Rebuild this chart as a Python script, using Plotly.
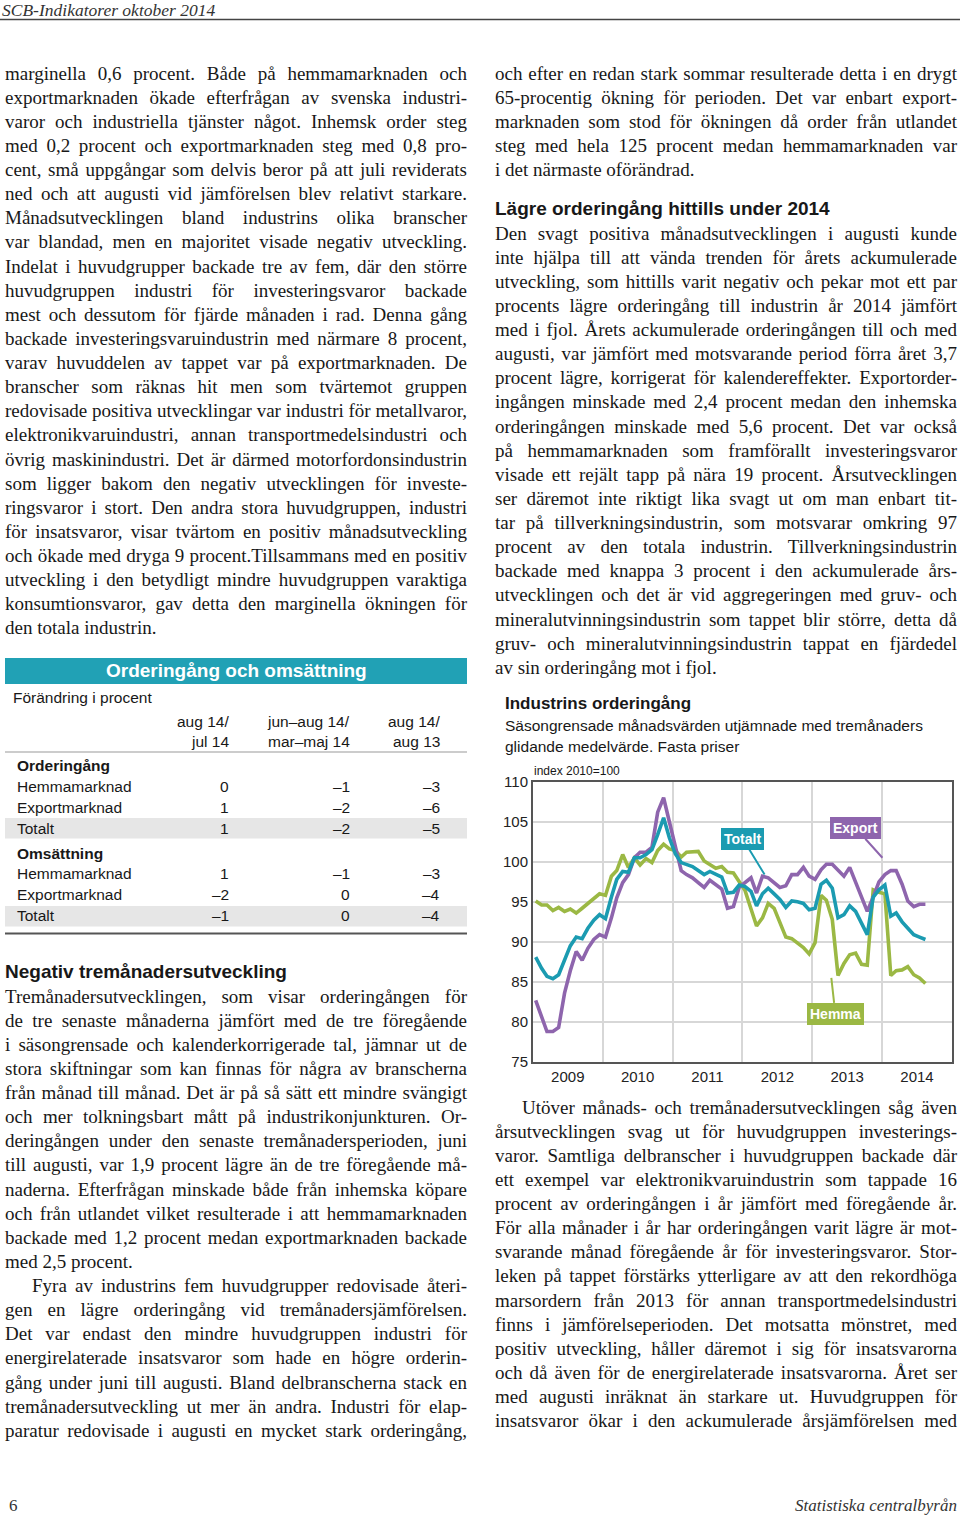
import json
import pandas as pd
import plotly.graph_objects as go

# ---------------- chart data (index 2010=100, monthly, Jan 2009 - Aug 2014) ----------------
months = pd.date_range("2009-01-01", periods=68, freq="MS") + pd.Timedelta(days=14)

hemma = [
    95.1, 94.6, 94.6, 93.9, 94.3, 93.8, 94.1, 93.6, 94.2, 94.8, 95.4, 96.0,
    95.8, 98.2, 98.9, 100.9, 99.3, 100.5, 99.6, 100.4, 99.9, 101.4, 102.2, 101.6,
    101.4, 100.6, 101.2, 101.3, 101.3, 100.1, 99.6, 99.2, 99.4, 98.7, 98.6, 97.5,
    96.4, 94.1, 92.0, 93.0, 94.8, 94.2, 92.4, 90.6, 90.4, 89.8, 89.3, 88.5,
    89.9, 95.8, 95.2, 92.8, 85.8, 87.3, 88.4, 88.6, 87.2, 87.1, 96.5, 96.2,
    96.0, 85.8, 86.4, 86.5, 86.9, 85.9, 85.5, 84.8,
]
totalt = [
    88.1, 86.7, 85.7, 85.4, 85.9, 87.8, 89.5, 90.6, 90.4, 91.7, 92.7, 93.4,
    92.9, 95.6, 97.8, 98.8, 98.7, 100.5, 100.5, 100.9, 101.5, 103.4, 105.5, 103.0,
    101.0, 99.9, 99.7, 99.4, 98.9, 98.4, 98.8, 98.4, 98.1, 96.1, 96.2, 97.1,
    96.9, 96.3, 94.5, 96.0, 96.7, 96.0, 95.3, 94.3, 95.1, 95.0, 94.8, 94.0,
    94.2, 97.2, 97.7, 96.7, 93.0, 93.4, 94.5, 93.8, 92.3, 90.9, 95.6, 96.5,
    97.1, 93.2, 93.6, 92.5, 91.7, 90.9, 90.6, 90.3,
]
export = [
    82.7, 80.8, 78.8, 78.8, 79.3, 83.6, 86.4, 88.8, 87.7, 89.2, 90.3, 90.9,
    90.6, 93.0, 95.5, 97.4, 98.4, 100.5, 101.2, 101.2, 101.8, 106.2, 108.0, 105.0,
    102.0, 98.9, 98.4, 98.0, 97.4, 96.8, 97.7, 97.2, 96.6, 94.2, 94.4, 96.8,
    97.4, 98.0, 96.1, 98.2, 98.0, 97.4, 96.8, 97.0, 98.4, 98.4, 99.3, 98.2,
    97.8, 99.0, 99.7, 99.7, 98.9, 98.2, 99.3, 97.5, 95.8, 93.8, 95.6, 97.5,
    98.4, 98.9, 98.9, 97.2, 95.1, 94.4, 94.7, 94.7,
]
years = [2009, 2010, 2011, 2012, 2013, 2014]
year_labels = ["2009", "2010", "2011", "2012", "2013", "2014"]
y_ticks = [75, 80, 85, 90, 95, 100, 105, 110]

chart_title = "Industrins orderingång"
chart_sub = ["Säsongrensade månadsvärden utjämnade med tremånaders",
             "glidande medelvärde. Fasta priser"]
chart_unit = "index 2010=100"

# ---------------- table data ----------------
table_title = "Orderingång och omsättning"
table_unit = "Förändring i procent"
table_head_1 = ["aug 14/", "jun–aug 14/", "aug 14/"]
table_head_2 = ["jul 14", "mar–maj 14", "aug 13"]
table_groups = ["Orderingång", "Omsättning"]
table_rows = ["Hemmamarknad", "Exportmarknad", "Totalt"]
order_vals = [[0, -1, -3], [1, -2, -6], [1, -2, -5]]
oms_vals = [[1, -1, -3], [-2, 0, -4], [-1, 0, -4]]

# ---------------- page text ----------------
header = "SCB-Indikatorer oktober 2014"
footer_left = "6"
footer_right = "Statistiska centralbyrån"
heading_left = "Negativ tremånadersutveckling"
heading_right = "Lägre orderingång hittills under 2014"

left_1 = [
    "marginella 0,6 procent. Både på hemmamarknaden och",
    "exportmarknaden ökade efterfrågan av svenska industri-",
    "varor och industriella tjänster något. Inhemsk order steg",
    "med 0,2 procent och exportmarknaden steg med 0,8 pro-",
    "cent, små uppgångar som delvis beror på att juli reviderats",
    "ned och att augusti vid jämförelsen blev relativt starkare.",
    "Månadsutvecklingen bland industrins olika branscher",
    "var blandad, men en majoritet visade negativ utveckling.",
    "Indelat i huvudgrupper backade tre av fem, där den större",
    "huvudgruppen industri för investeringsvaror backade",
    "mest och dessutom för fjärde månaden i rad. Denna gång",
    "backade investeringsvaruindustrin med närmare 8 procent,",
    "varav huvuddelen av tappet var på exportmarknaden. De",
    "branscher som räknas hit men som tvärtemot gruppen",
    "redovisade positiva utvecklingar var industri för metallvaror,",
    "elektronikvaruindustri, annan transportmedelsindustri och",
    "övrig maskinindustri. Det är därmed motorfordonsindustrin",
    "som ligger bakom den negativ utvecklingen för investe-",
    "ringsvaror i stort. Den andra stora huvudgruppen, industri",
    "för insatsvaror, visar tvärtom en positiv månadsutveckling",
    "och ökade med dryga 9 procent.Tillsammans med en positiv",
    "utveckling i den betydligt mindre huvudgruppen varaktiga",
    "konsumtionsvaror, gav detta den marginella ökningen för",
    "den totala industrin.",
]
left_1_mode = ["j"] * 23 + ["l"]

left_2 = [
    "Tremånadersutvecklingen, som visar orderingången för",
    "de tre senaste månaderna jämfört med de tre föregående",
    "i säsongrensade och kalenderkorrigerade tal, jämnar ut de",
    "stora skiftningar som kan finnas för några av branscherna",
    "från månad till månad. Det är på så sätt ett mindre svängigt",
    "och mer tolkningsbart mått på industrikonjunkturen. Or-",
    "deringången under den senaste tremånadersperioden, juni",
    "till augusti, var 1,9 procent lägre än de tre föregående må-",
    "naderna. Efterfrågan minskade både från inhemska köpare",
    "och från utlandet vilket resulterade i att hemmamarknaden",
    "backade med 1,2 procent medan exportmarknaden backade",
    "med 2,5 procent.",
    "Fyra av industrins fem huvudgrupper redovisade återi-",
    "gen en lägre orderingång vid tremånadersjämförelsen.",
    "Det var endast den mindre huvudgruppen industri för",
    "energirelaterade insatsvaror som hade en högre orderin-",
    "gång under juni till augusti. Bland delbranscherna stack en",
    "tremånadersutveckling ut mer än andra. Industri för elap-",
    "paratur redovisade i augusti en mycket stark orderingång,",
]
left_2_mode = ["j"] * 11 + ["l", "i"] + ["j"] * 6

right_1 = [
    "och efter en redan stark sommar resulterade detta i en drygt",
    "65-procentig ökning för perioden. Det var enbart export-",
    "marknaden som stod för ökningen då order från utlandet",
    "steg med hela 125 procent medan hemmamarknaden var",
    "i det närmaste oförändrad.",
]
right_1_mode = ["j"] * 4 + ["l"]

right_2 = [
    "Den svagt positiva månadsutvecklingen i augusti kunde",
    "inte hjälpa till att vända trenden för årets ackumulerade",
    "utveckling, som hittills varit negativ och pekar mot ett par",
    "procents lägre orderingång till industrin år 2014 jämfört",
    "med i fjol. Årets ackumulerade orderingången till och med",
    "augusti, var jämfört med motsvarande period förra året 3,7",
    "procent lägre, korrigerat för kalendereffekter. Exportorder-",
    "ingången minskade med 2,4 procent medan den inhemska",
    "orderingången minskade med 5,6 procent. Det var också",
    "på hemmamarknaden som framförallt investeringsvaror",
    "visade ett rejält tapp på nära 19 procent. Årsutvecklingen",
    "ser däremot inte riktigt lika svagt ut om man enbart tit-",
    "tar på tillverkningsindustrin, som motsvarar omkring 97",
    "procent av den totala industrin. Tillverkningsindustrin",
    "backade med knappa 3 procent i den ackumulerade års-",
    "utvecklingen och det är vid aggregeringen med gruv- och",
    "mineralutvinningsindustrin som tappet blir större, detta då",
    "gruv- och mineralutvinningsindustrin tappat en fjärdedel",
    "av sin orderingång mot i fjol.",
]
right_2_mode = ["j"] * 18 + ["l"]

right_3 = [
    "Utöver månads- och tremånadersutvecklingen såg även",
    "årsutvecklingen svag ut för huvudgruppen investerings-",
    "varor. Samtliga delbranscher i huvudgruppen backade där",
    "ett exempel var elektronikvaruindustrin som tappade 16",
    "procent av orderingången i år jämfört med föregående år.",
    "För alla månader i år har orderingången varit lägre är mot-",
    "svarande månad föregående år för investeringsvaror. Stor-",
    "leken på tappet förstärks ytterligare av att den rekordhöga",
    "marsordern från 2013 för annan transportmedelsindustri",
    "finns i jämförelseperioden. Det motsatta mönstret, med",
    "positiv utveckling, håller däremot i sig för insatsvarorna",
    "och då även för de energirelaterade insatsvarorna. Året ser",
    "med augusti inräknat än starkare ut. Huvudgruppen för",
    "insatsvaror ökar i den ackumulerade årsjämförelsen med",
]
right_3_mode = ["i"] + ["j"] * 13

# ---------------- styling ----------------
W, H = 960, 1520
SERIF = "Liberation Serif, Times New Roman, serif"
SANS = "Liberation Sans, Arial, sans-serif"
INK = "#181818"
GREEN = "#9bb844"
TEAL = "#1b9bb1"
PURPLE = "#8e65ad"
BAR = "#21a1b5"
GRID = "#d7d7d7"
AXC = "#555555"

ann = []
just = {}


def T(x, y, s, size=19, family=SERIF, color=INK, xanchor="left",
      weight="normal", style="normal", width=None, yanchor="middle"):
    if width is not None:
        just[str(len(ann))] = width
    ann.append(dict(
        xref="paper", yref="paper", x=x / W, y=1 - y / H, text=s,
        showarrow=False, xanchor=xanchor, yanchor=yanchor,
        align=xanchor if xanchor in ("left", "right") else "center",
        borderpad=0, borderwidth=0,
        font=dict(family=family, size=size, color=color, weight=weight, style=style),
    ))


def block(lines, modes, x0, x1, y0, step, indent=27):
    for k, (s, m) in enumerate(zip(lines, modes)):
        xl = x0 + (indent if m == "i" else 0)
        T(xl, y0 + k * step, s, width=(x1 - xl) if m in ("j", "i") else None)


BODY_STEP = 24.13
block(left_1, left_1_mode, 5, 467, 73, BODY_STEP)
block(left_2, left_2_mode, 5, 467, 996, BODY_STEP)
block(right_1, right_1_mode, 495, 957, 73, BODY_STEP)
block(right_2, right_2_mode, 495, 957, 233, BODY_STEP)
block(right_3, right_3_mode, 495, 957, 1107, BODY_STEP)

T(5, 971, heading_left, size=19, family=SANS, weight="bold")
T(495, 209, heading_right, size=19, family=SANS, weight="bold")

T(2, 0, header, size=17.5, style="italic", color="#333", yanchor="top")
T(9, 1505, footer_left, size=17, color="#333")
T(957, 1505, footer_right, size=17, style="italic", color="#333", xanchor="right")

# ---- table ----
T(236, 670, table_title, size=19, family=SANS, weight="bold", color="white", xanchor="center")
T(13, 697, table_unit, size=15.5, family=SANS)
col_x = [229, 350, 440]
for cx, h1, h2 in zip(col_x, table_head_1, table_head_2):
    T(cx, 721, h1, size=15.5, family=SANS, xanchor="right")
    T(cx, 741, h2, size=15.5, family=SANS, xanchor="right")


def fmt(v):
    return str(v).replace("-", "–")


group_y = [766, 853]
for gname, gy, vals in zip(table_groups, group_y, [order_vals, oms_vals]):
    T(17, gy, gname, size=15.5, family=SANS, weight="bold")
    for r, (rname, rv) in enumerate(zip(table_rows, vals)):
        ry = gy + 20.8 * (r + 1)
        T(17, ry, rname, size=15.5, family=SANS)
        for cx, v in zip(col_x, rv):
            T(cx, ry, fmt(v), size=15.5, family=SANS, xanchor="right")

# ---- chart texts ----
T(505, 703, chart_title, size=17, family=SANS, weight="bold")
T(505, 725, chart_sub[0], size=15.5, family=SANS)
T(505, 746, chart_sub[1], size=15.5, family=SANS)
T(534, 771, chart_unit, size=12, family=SANS)


# ---- callouts ----
def callout(x, y, s, color, ax, ay):
    ann.append(dict(
        x=x, y=y, xref="x", yref="y", text=s, showarrow=True, arrowhead=0,
        arrowwidth=2, arrowcolor=color, ax=ax, ay=ay, bgcolor=color,
        borderpad=3, borderwidth=0,
        font=dict(family=SANS, size=14, color="white", weight="bold"),
    ))


callout("2012-04-26", 98.4, "Totalt", TEAL, -22, -36)
callout("2014-01-02", 100.5, "Export", PURPLE, -27, -30)
callout("2013-04-10", 85.5, "Hemma", GREEN, 4, 36)

# ---------------- figure ----------------
fig = go.Figure()
fig.add_trace(go.Scatter(x=months, y=hemma, mode="lines", name="Hemma",
                         line=dict(color=GREEN, width=3.6)))
fig.add_trace(go.Scatter(x=months, y=export, mode="lines", name="Export",
                         line=dict(color=PURPLE, width=3.6)))
fig.add_trace(go.Scatter(x=months, y=totalt, mode="lines", name="Totalt",
                         line=dict(color=TEAL, width=3.6)))


def P(x0, y0, x1, y1, **kw):
    return dict(xref="paper", yref="paper", x0=x0 / W, x1=x1 / W,
                y0=1 - y0 / H, y1=1 - y1 / H, **kw)


shapes = [
    P(0, 19.5, 960, 19.5, type="line", line=dict(color="#444", width=1.5)),
    P(5, 658, 467, 684, type="rect", fillcolor=BAR, line=dict(width=0)),
    P(5, 752, 467, 752, type="line", line=dict(color="#999", width=1)),
    P(5, 818, 467, 838.5, type="rect", fillcolor="#e6e6e6", line=dict(width=0), layer="below"),
    P(5, 906, 467, 926.5, type="rect", fillcolor="#e6e6e6", line=dict(width=0), layer="below"),
    P(5, 933.5, 467, 933.5, type="line", line=dict(color="#555", width=2)),
]

fig.update_layout(
    width=W, height=H, margin=dict(l=0, r=0, t=0, b=0, pad=0, autoexpand=False),
    paper_bgcolor="white", plot_bgcolor="white", showlegend=False,
    annotations=ann, shapes=shapes,
    xaxis=dict(
        domain=[533 / W, 952 / W], type="date",
        range=["2009-01-01", "2015-01-01"],
        tickvals=[f"{y}-07-02" for y in years], ticktext=year_labels,
        ticks="", showgrid=False, zeroline=False,
        showline=True, mirror=True, linecolor=AXC, linewidth=2,
        tickfont=dict(family=SANS, size=15, color="#222"),
        minor=dict(tickvals=[f"{y}-01-01" for y in years[1:]], showgrid=True,
                   gridcolor=GRID, gridwidth=1.5, ticks=""),
    ),
    yaxis=dict(
        domain=[1 - 1062 / H, 1 - 781.7 / H], range=[75, 110],
        tickvals=y_ticks, ticks="", showgrid=True, gridcolor=GRID, gridwidth=1.5,
        zeroline=False, showline=True, mirror=True, linecolor=AXC, linewidth=2,
        tickfont=dict(family=SANS, size=15, color="#222"),
    ),
)

post = """
(function(){
var gd = document.getElementById('{plot_id}');
document.documentElement.style.margin = '0';
document.body.style.margin = '0';
document.body.style.overflow = 'hidden';
var J = %s;
function just(){
  var gs = gd.querySelectorAll('g.annotation');
  for (var k = 0; k < gs.length; k++) {
    var g = gs[k];
    var idx = g.getAttribute('data-index');
    if (!(idx in J)) continue;
    var t = g.querySelector('text.annotation-text');
    if (!t) continue;
    t.style.wordSpacing = '0px';
    var w = t.getComputedTextLength();
    var n = (t.textContent.match(/ /g) || []).length;
    if (n > 0) t.style.wordSpacing = ((J[idx] - w) / n) + 'px';
  }
}
just();
setTimeout(just, 100);
gd.on('plotly_afterplot', just);
})();
""" % json.dumps(just)

fig.write_html("out.html", post_script=post, config={"displayModeBar": False})
